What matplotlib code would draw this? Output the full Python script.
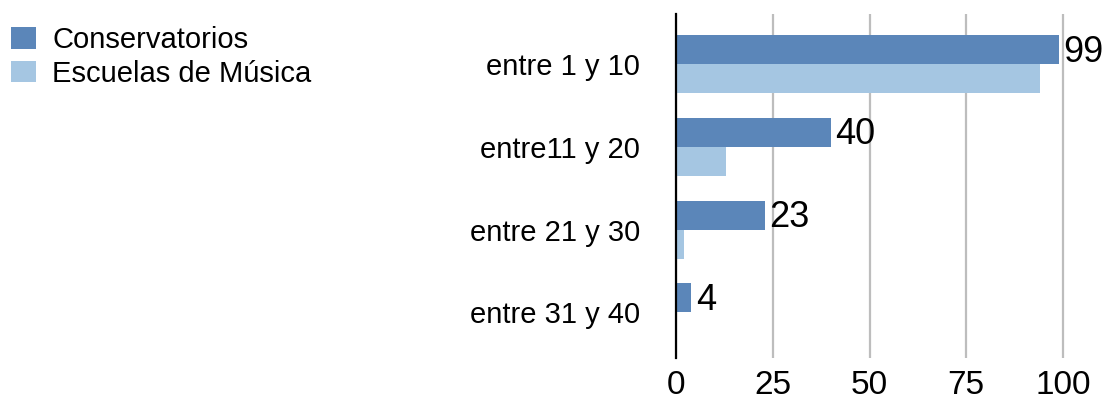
import matplotlib
matplotlib.use("Agg")
import matplotlib.pyplot as plt
from matplotlib.patches import Patch
import numpy as np

plt.rcParams['font.family'] = ['Liberation Sans', 'DejaVu Sans']

categories = ["entre 1 y 10", "entre11 y 20", "entre 21 y 30", "entre 31 y 40"]
conservatorios = [99, 40, 23, 4]
escuelas = [94, 13, 2, 0]
series_names = ["Conservatorios", "Escuelas de Música"]
x_ticks = [0, 25, 50, 75, 100]

dark = "#5B86B9"
light = "#A5C6E2"

fig = plt.figure(figsize=(11.1, 4.01), dpi=100)
ax = fig.add_axes([676 / 1110, 1 - 358 / 401, (110 * 3.87) / 1110, 344 / 401])

y = np.arange(len(categories))
h = 0.35
ax.barh(y - h / 2, conservatorios, height=h, color=dark, zorder=3)
ax.barh(y + h / 2, escuelas, height=h, color=light, zorder=3)

for yi, v in zip(y, conservatorios):
    ax.annotate(str(v), (v, yi - h / 2), xytext=(3, -2), textcoords="offset points",
                ha="left", va="center", fontsize=26, color="black", zorder=4)

ax.set_xlim(0, 110)
ax.set_ylim(3.55, -0.60)
ax.set_xticks(x_ticks)
ax.set_xticklabels([str(t) for t in x_ticks])
ax.set_yticks(y)
ax.set_yticklabels(categories)
ax.tick_params(axis="x", length=0, pad=9, labelsize=24)
ax.tick_params(axis="y", length=0, pad=26, labelsize=21)

ax.grid(axis="x", color="#BDBDBD", linewidth=1.6, zorder=0)
for s in ["top", "right", "bottom"]:
    ax.spines[s].set_visible(False)
ax.spines["left"].set_color("black")
ax.spines["left"].set_linewidth(1.6)
ax.spines["left"].set_zorder(5)

handles = [Patch(facecolor=dark, edgecolor="none"), Patch(facecolor=light, edgecolor="none")]
fig.legend(handles, series_names, loc="upper left", bbox_to_anchor=(11 / 1110, 1 - 26 / 401),
           frameon=False, fontsize=21, handlelength=0.86, handleheight=0.76,
           handletextpad=0.55, labelspacing=0.2, borderpad=0, borderaxespad=0)

fig.savefig("out.png", dpi=100)
